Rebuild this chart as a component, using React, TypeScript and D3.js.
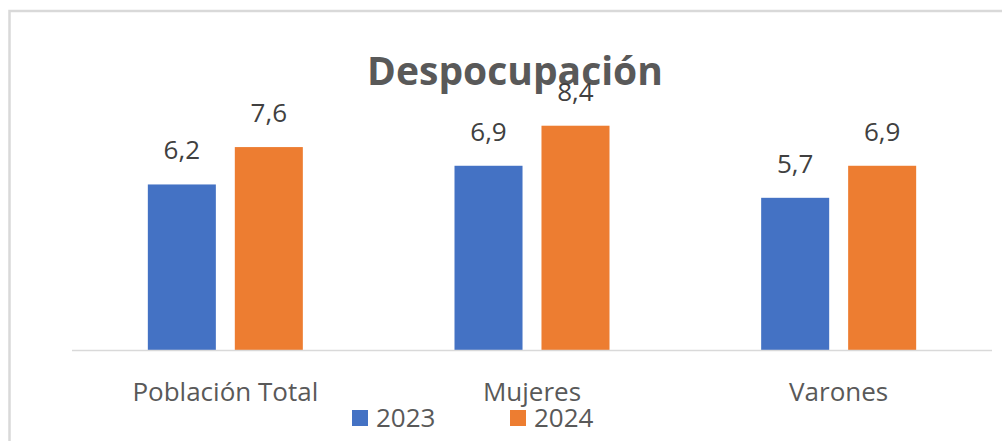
import React from 'react';
import * as d3 from 'd3';

const categories = ['Población Total', 'Mujeres', 'Varones'];
const years = ['2023', '2024'];
const values2023 = [6.2, 6.9, 5.7];
const values2024 = [7.6, 8.4, 6.9];
const colors = ['#4472C4', '#ED7D31'];

const W = 1002;
const H = 441;
const FONT = '"Open Sans", sans-serif';

export default function App() {
  const series = [values2023, values2024];

  const x = d3.scaleBand<string>().domain(categories).range([72, 992]).padding(0);
  // bars inside each category, centred on the band
  const xSub = d3.scaleBand<string>().domain(years).range([-77.5, 77.5]).paddingInner(0.218);
  const y = d3.scaleLinear().domain([0, 10]).range([350, 83]);

  const fmt = (v: number) => v.toFixed(1).replace('.', ',');

  return (
    <svg width={W} height={H} style={{ position: 'absolute', left: 0, top: 0 }}>
      <rect x={0} y={0} width={W} height={H} fill="#fff" />
      {/* chart border */}
      <rect x={9.5} y={11} width={W + 20} height={H + 20} fill="none" stroke="#d9d9d9" strokeWidth={2.5} />

      <text x={515} y={85} textAnchor="middle" fontFamily={FONT} fontWeight={700} fontSize={39} fill="#595959">
        Despocupación
      </text>

      {/* bars */}
      {years.map((yr, si) => (
        <g key={yr}>
          {categories.map((c, ci) => {
            const cx = (x(c) ?? 0) + x.bandwidth() / 2 + (xSub(yr) ?? 0);
            const v = series[si][ci];
            return (
              <g key={c}>
                <rect x={cx} y={y(v)} width={xSub.bandwidth()} height={y(0) - y(v)} fill={colors[si]} />
                <text
                  x={cx + xSub.bandwidth() / 2}
                  y={y(v) - 25}
                  textAnchor="middle"
                  fontFamily={FONT}
                  fontSize={26}
                  fill="#404040"
                >
                  {fmt(v)}
                </text>
              </g>
            );
          })}
        </g>
      ))}

      {/* baseline */}
      <line x1={72} x2={992} y1={y(0) + 0.5} y2={y(0) + 0.5} stroke="#d9d9d9" strokeWidth={1.5} />

      {/* category labels */}
      {categories.map((c) => (
        <text
          key={c}
          x={(x(c) ?? 0) + x.bandwidth() / 2}
          y={401}
          textAnchor="middle"
          fontFamily={FONT}
          fontSize={26}
          fill="#595959"
        >
          {c}
        </text>
      ))}

      {/* legend */}
      {years.map((yr, i) => {
        const lx = 352 + i * 158;
        return (
          <g key={yr}>
            <rect x={lx} y={410} width={16} height={16} fill={colors[i]} />
            <text x={lx + 24} y={427} fontFamily={FONT} fontSize={26} fill="#595959">
              {yr}
            </text>
          </g>
        );
      })}
    </svg>
  );
}
